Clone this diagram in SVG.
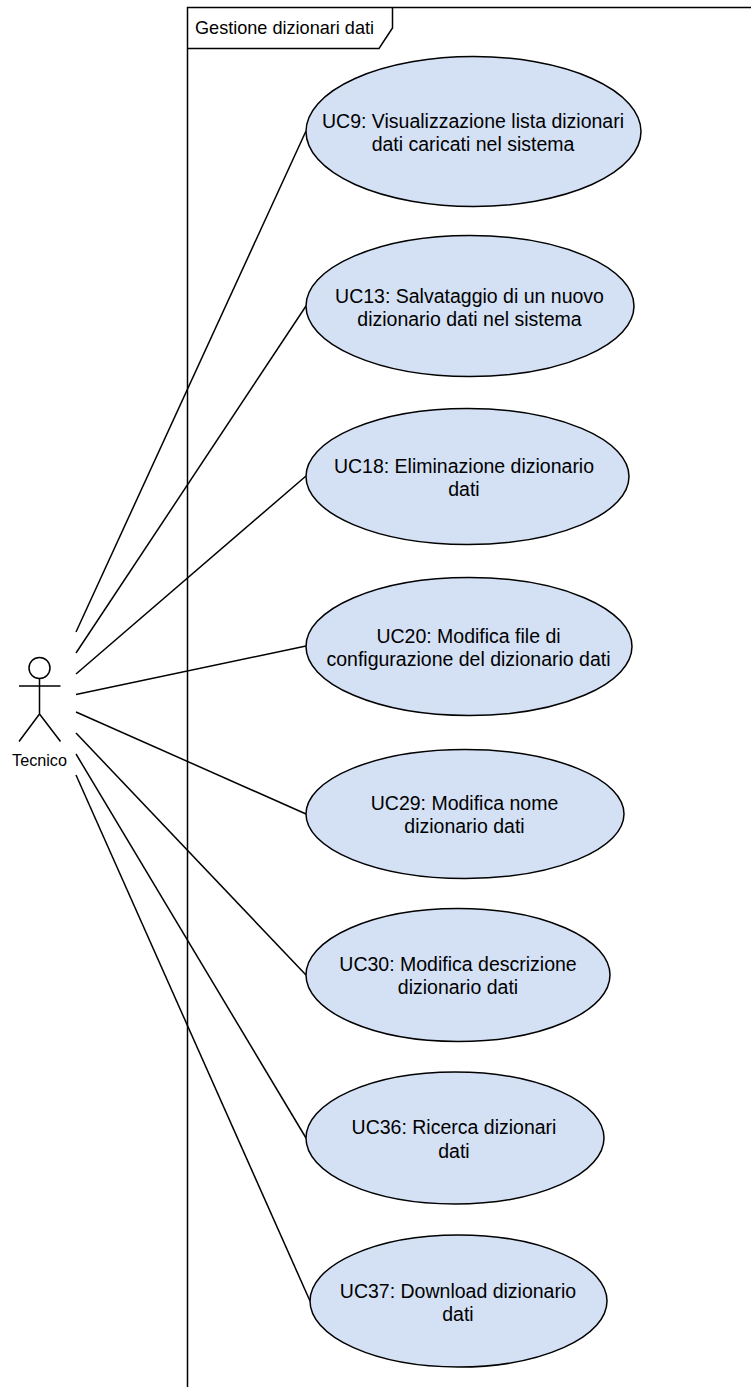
<svg xmlns="http://www.w3.org/2000/svg" width="751" height="1387" viewBox="0 0 751 1387">
<style>
.l{fill:none;stroke:#000;stroke-width:1.5}
.u{fill:#d4e1f5;stroke:#000;stroke-width:1.5}
text{font-family:"Liberation Sans",Arial,sans-serif;font-size:19.5px;fill:#000;text-anchor:middle}
</style>
<rect width="751" height="1387" fill="#fff"/>
<g id="frame">
<path class="l" d="M187.500 1387V7.500H751"/>
<path class="l" d="M187.500 48.500H379L392.500 28V7.500"/>
<text x="195" y="34" style="text-anchor:start;font-size:18.100px">Gestione dizionari dati</text>
</g>
<g id="connectors">
<path class="l" d="M76 632L306 131"/>
<path class="l" d="M76 653L306 306"/>
<path class="l" d="M76 674L306 476"/>
<path class="l" d="M76 694.500L306 646"/>
<path class="l" d="M76 712L306 814"/>
<path class="l" d="M76 733L306 975"/>
<path class="l" d="M76 754L306 1138"/>
<path class="l" d="M76 775L310 1301"/>
</g>
<g id="actor">
<circle class="l" cx="39.500" cy="668" r="10.500"/>
<path class="l" d="M39.500 678.500V714M19 686H60.500M39.500 714L19 741.500M39.500 714L60.500 741.500"/>
<text x="39.500" y="766" style="font-size:16.200px">Tecnico</text>
</g>
<g id="uc9"><ellipse class="u" cx="473.500" cy="131.500" rx="167.500" ry="75"/><text x="473" y="128">UC9: Visualizzazione lista dizionari</text><text x="473" y="151">dati caricati nel sistema</text></g>
<g id="uc13"><ellipse class="u" cx="470" cy="306" rx="164" ry="70.500"/><text x="469.500" y="303">UC13: Salvataggio di un nuovo</text><text x="469.500" y="326">dizionario dati nel sistema</text></g>
<g id="uc18"><ellipse class="u" cx="467.500" cy="476.500" rx="161.500" ry="68"/><text x="464" y="473">UC18: Eliminazione dizionario</text><text x="464" y="496">dati</text></g>
<g id="uc20"><ellipse class="u" cx="469" cy="646.500" rx="163" ry="69"/><text x="468.500" y="643">UC20: Modifica file di</text><text x="468.500" y="666">configurazione del dizionario dati</text></g>
<g id="uc29"><ellipse class="u" cx="465" cy="814" rx="159" ry="64.500"/><text x="464.500" y="810">UC29: Modifica nome</text><text x="464.500" y="833">dizionario dati</text></g>
<g id="uc30"><ellipse class="u" cx="458" cy="975" rx="152" ry="66.500"/><text x="458" y="971">UC30: Modifica descrizione</text><text x="458" y="994">dizionario dati</text></g>
<g id="uc36"><ellipse class="u" cx="455" cy="1138" rx="149" ry="66"/><text x="454" y="1134">UC36: Ricerca dizionari</text><text x="454" y="1158">dati</text></g>
<g id="uc37"><ellipse class="u" cx="458.500" cy="1301" rx="148.500" ry="66"/><text x="458" y="1298">UC37: Download dizionario</text><text x="458" y="1321">dati</text></g>
</svg>
